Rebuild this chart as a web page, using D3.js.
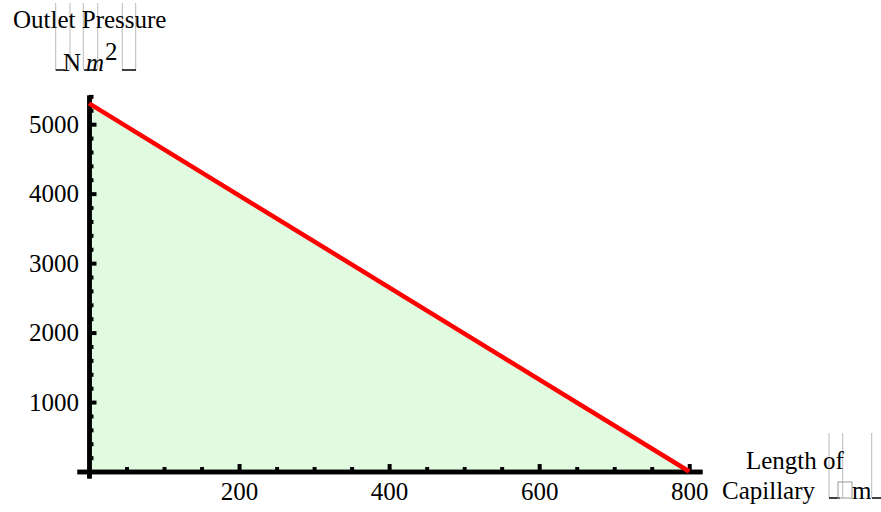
<!DOCTYPE html>
<html>
<head>
<meta charset="utf-8">
<script src="https://cdn.jsdelivr.net/npm/d3@7"></script>
<style>
  body { margin: 0; background: #fff; }
  svg { display: block; font-family: "Liberation Serif", "Times New Roman", serif; }
  .tick text { font-size: 25px; fill: #000; }
  .guide { stroke: #bbb; stroke-width: 1; }
  .foot { stroke: #000; stroke-width: 1.5; }
</style>
</head>
<body>
<div id="wrapper"></div>
<script>
// data: capillary length (m) vs outlet pressure (N/m^2)
const lengths = [0, 800]
const pressures = [5300, 0]

const xTickLabels = [200, 400, 600, 800]
const yTickLabels = [1000, 2000, 3000, 4000, 5000]

const width = 881
const height = 512

const x = d3.scaleLinear()
    .domain([-16, 817])
    .range([77, 702])
const y = d3.scaleLinear()
    .domain([-93, 5420])
    .range([478, 95])

const xMinor = d3.range(50, 800, 50).filter(d => !xTickLabels.includes(d))
const yMinor = d3.range(200, 5420, 200).filter(d => !yTickLabels.includes(d))

const svg = d3.select("#wrapper")
    .append("svg")
        .attr("width", width)
        .attr("height", height)

const points = lengths.map((d, i) => ({ x: d, y: pressures[i] }))

// filling to the axis
svg.append("path")
    .datum(points)
    .attr("fill", "#e0fbe0")
    .attr("d", d3.area()
        .x(d => x(d.x))
        .y0(y(0))
        .y1(d => y(d.y)))

// axes
const xAxisG = svg.append("g")
    .attr("transform", `translate(0,${y(0)})`)
xAxisG.append("g")
    .call(d3.axisBottom(x).tickValues(xMinor).tickSizeInner(-4.5).tickSizeOuter(0).tickFormat(""))
xAxisG.append("g")
    .call(d3.axisBottom(x).tickValues(xTickLabels).tickSizeInner(-7.5).tickSizeOuter(0)
        .tickPadding(11).tickFormat(d3.format("d")))

const yAxisG = svg.append("g")
    .attr("transform", `translate(${x(0)},0)`)
yAxisG.append("g")
    .call(d3.axisLeft(y).tickValues(yMinor).tickSizeInner(-4.5).tickSizeOuter(0).tickFormat(""))
yAxisG.append("g")
    .call(d3.axisLeft(y).tickValues(yTickLabels).tickSizeInner(-7.5).tickSizeOuter(0)
        .tickPadding(10).tickFormat(d3.format("d")))

svg.selectAll(".domain")
    .attr("stroke", "#000")
    .attr("stroke-width", 4.5)
svg.selectAll(".tick line")
    .attr("stroke", "#000")
    .attr("stroke-width", 4)
svg.selectAll(".tick text")
    .attr("font-family", "Liberation Serif")

// the line
svg.append("path")
    .datum(points)
    .attr("fill", "none")
    .attr("stroke", "#ff0000")
    .attr("stroke-width", 4.5)
    .attr("d", d3.line()
        .x(d => x(d.x))
        .y(d => y(d.y)))

// y axis label (with Mathematica's unrendered box glyphs)
const yLab = svg.append("g")
;[55.7, 70, 83.3, 97.7, 122.3, 135.7].forEach(gx => {
    yLab.append("line").attr("class", "guide")
        .attr("x1", gx).attr("x2", gx).attr("y1", 3).attr("y2", 70)
})
;[[55.7, 65], [84, 97], [122, 136]].forEach(([a, b]) => {
    yLab.append("line").attr("class", "foot")
        .attr("x1", a).attr("x2", b).attr("y1", 70).attr("y2", 70)
})
yLab.append("text")
    .attr("x", 13).attr("y", 28)
    .attr("font-size", 25)
    .text("Outlet Pressure")
yLab.append("text")
    .attr("x", 63).attr("y", 71)
    .attr("font-size", 25)
    .text("N")
yLab.append("text")
    .attr("x", 86).attr("y", 71)
    .attr("font-size", 25)
    .attr("font-style", "italic")
    .text("m")
yLab.append("text")
    .attr("x", 105).attr("y", 60)
    .attr("font-size", 25)
    .text("2")

// x axis label
const xLab = svg.append("g")
;[829, 842.7, 871.7].forEach(gx => {
    xLab.append("line").attr("class", "guide")
        .attr("x1", gx).attr("x2", gx).attr("y1", 433).attr("y2", 498)
})
;[[829, 840], [872, 881]].forEach(([a, b]) => {
    xLab.append("line").attr("class", "foot")
        .attr("x1", a).attr("x2", b).attr("y1", 498).attr("y2", 498)
})
xLab.append("rect")
    .attr("x", 838).attr("y", 482).attr("width", 14).attr("height", 16)
    .attr("fill", "none").attr("stroke", "#999").attr("stroke-width", 1)
xLab.append("text")
    .attr("x", 746).attr("y", 469)
    .attr("font-size", 25)
    .text("Length of")
xLab.append("text")
    .attr("x", 722).attr("y", 499)
    .attr("font-size", 25)
    .text("Capillary")
xLab.append("text")
    .attr("x", 852).attr("y", 499)
    .attr("font-size", 25)
    .text("m")
</script>
</body>
</html>
